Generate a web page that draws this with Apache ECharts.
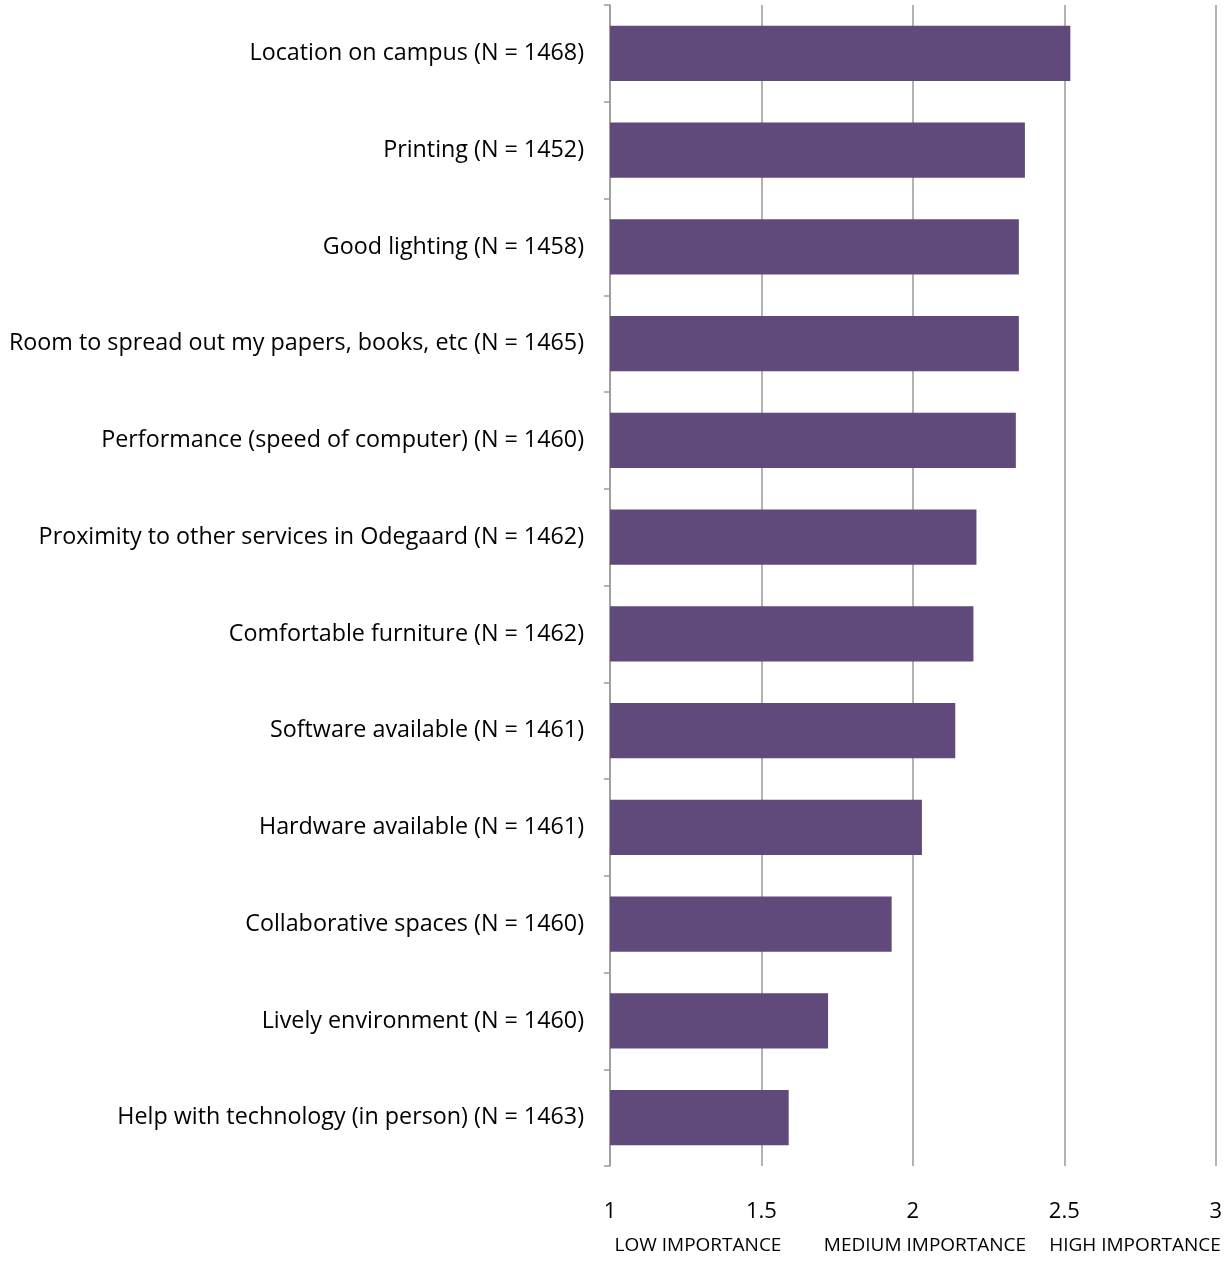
<!DOCTYPE html>
<html>
<head>
<meta charset="utf-8">
<script src="https://cdn.jsdelivr.net/npm/echarts@6/dist/echarts.min.js"></script>
<style>
  html, body { margin: 0; padding: 0; background: #fff; }
  #chart { width: 1225px; height: 1262px; }
</style>
</head>
<body>
<div id="chart"></div>
<script>
// Survey items, top to bottom
const categories = [
  'Location on campus (N = 1468)',
  'Printing (N = 1452)',
  'Good lighting (N = 1458)',
  'Room to spread out my papers, books, etc (N = 1465)',
  'Performance (speed of computer) (N = 1460)',
  'Proximity to other services in Odegaard (N = 1462)',
  'Comfortable furniture (N = 1462)',
  'Software available (N = 1461)',
  'Hardware available (N = 1461)',
  'Collaborative spaces (N = 1460)',
  'Lively environment (N = 1460)',
  'Help with technology (in person) (N = 1463)'
];

// Mean importance rating (1 = low, 3 = high)
const meanImportance = [2.52, 2.37, 2.35, 2.35, 2.34, 2.21, 2.20, 2.14, 2.03, 1.93, 1.72, 1.59];

// Value axis ticks and the scale captions under them
const xTicks = [1, 1.5, 2, 2.5, 3];
const scaleCaptions = ['LOW IMPORTANCE', 'MEDIUM IMPORTANCE', 'HIGH IMPORTANCE'];

const FONT = '"Open Sans", "Noto Sans", sans-serif';
const chart = echarts.init(document.getElementById('chart'), null, { renderer: 'canvas' });

const captionX = [698, 925, 1135];

chart.setOption({
  animation: false,
  backgroundColor: '#ffffff',
  grid: { left: 610, right: 8, top: 5, bottom: 96, containLabel: false },
  xAxis: {
    type: 'value',
    min: xTicks[0],
    max: xTicks[xTicks.length - 1],
    interval: 0.5,
    axisLine: { show: false },
    axisTick: { show: false },
    splitLine: { show: true, lineStyle: { color: '#9a9a9a', width: 1.5 } },
    axisLabel: {
      margin: 35,
      fontFamily: FONT,
      fontSize: 22,
      color: '#000',
      formatter: v => String(v)
    }
  },
  yAxis: {
    type: 'category',
    data: categories,
    inverse: true,
    axisLine: { show: true, lineStyle: { color: '#9a9a9a', width: 1.5 } },
    axisTick: { show: true, alignWithLabel: false, length: 6, lineStyle: { color: '#9a9a9a', width: 1.5 } },
    axisLabel: {
      margin: 26,
      fontFamily: FONT,
      fontSize: 23.3,
      color: '#000',
      padding: [2, 0, 0, 0]
    }
  },
  series: [{
    type: 'bar',
    data: meanImportance,
    barCategoryGap: '43%',
    itemStyle: { color: '#604a7b' }
  }],
  graphic: scaleCaptions.map((t, i) => ({
    type: 'text',
    x: captionX[i],
    y: 1246,
    style: {
      text: t,
      fontFamily: FONT,
      fontSize: 19,
      fill: '#000',
      textAlign: 'center',
      textVerticalAlign: 'middle'
    }
  }))
});
</script>
</body>
</html>
